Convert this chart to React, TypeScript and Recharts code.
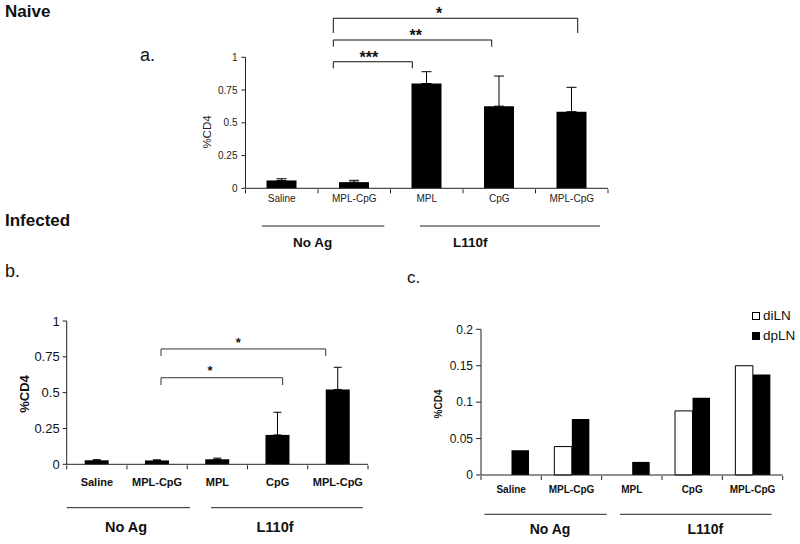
import React from 'react';
import { BarChart, Bar, XAxis, YAxis, ErrorBar, ReferenceLine, ReferenceDot, Legend } from 'recharts';

const FONT = '"Liberation Sans", Arial, Helvetica, sans-serif';

// ---- data ----
const categoryKeys = ['saline', 'noag_mplcpg', 'mpl', 'cpg', 'l110f_mplcpg'];
const categoryLabels = ['Saline', 'MPL-CpG', 'MPL', 'CpG', 'MPL-CpG'];
const categoryPos = [1, 2, 3, 4, 5];
const groupLabels = ['No Ag', 'L110f'];

const naiveMean = [0.06, 0.047, 0.8, 0.627, 0.585];
const naiveErr = [0.013, 0.014, 0.09, 0.23, 0.186];

const infectedMean = [0.028, 0.027, 0.035, 0.205, 0.522];
const infectedErr = [0.004, 0.004, 0.008, 0.158, 0.155];

const diLN = [0, 0.039, 0, 0.088, 0.15];
const dpLN = [0.034, 0.077, 0.018, 0.106, 0.138];

const naiveTicks = [0, 0.25, 0.5, 0.75, 1];
const lnTicks = [0, 0.05, 0.1, 0.15, 0.2];
const boundaryTicks = [0.5, 1.5, 2.5, 3.5, 4.5, 5.5];

// significance brackets (category-position units on x, value units on y)
const naiveSig = [
  { from: 1.711, to: 2.801, y: 0.966, leg: 0.916, mark: '***', markX: 2.203, markY: 1.0 },
  { from: 1.711, to: 3.896, y: 1.132, leg: 1.081, mark: '**', markX: 2.848, markY: 1.168 },
  { from: 1.711, to: 5.082, y: 1.298, leg: 1.186, mark: '*', markX: 3.169, markY: 1.336 },
];
const infectedSig = [
  { from: 2.065, to: 4.084, y: 0.604, leg: 0.553, mark: '*', markX: 2.878, markY: 0.652 },
  { from: 2.065, to: 4.798, y: 0.805, leg: 0.756, mark: '*', markX: 3.348, markY: 0.851 },
];

const labelOf: Record<string, string> = {};
categoryKeys.forEach((k, i) => (labelOf[k] = categoryLabels[i]));

const naiveRows = categoryKeys.map((k, i) => ({ key: k, pos: categoryPos[i], mean: naiveMean[i], err: [0, naiveErr[i]] }));
const infectedRows = categoryKeys.map((k, i) => ({ key: k, pos: categoryPos[i], mean: infectedMean[i], err: [0, infectedErr[i]] }));
const lnRows = categoryKeys.map((k, i) => ({ key: k, pos: categoryPos[i], diLN: diLN[i], dpLN: dpLN[i] }));

type Sig = { from: number; to: number; y: number; leg: number; mark: string; markX: number; markY: number };

function brackets(sigs: Sig[], stroke: string, fontSize: number) {
  const out: React.ReactNode[] = [];
  sigs.forEach((s, i) => {
    out.push(
      <ReferenceLine key={`h${i}`} xAxisId="n" ifOverflow="visible" stroke={stroke} strokeWidth={1}
        segment={[{ x: s.from, y: s.y }, { x: s.to, y: s.y }]} />,
      <ReferenceLine key={`l${i}`} xAxisId="n" ifOverflow="visible" stroke={stroke} strokeWidth={1}
        segment={[{ x: s.from, y: s.y }, { x: s.from, y: s.leg }]} />,
      <ReferenceLine key={`r${i}`} xAxisId="n" ifOverflow="visible" stroke={stroke} strokeWidth={1}
        segment={[{ x: s.to, y: s.y }, { x: s.to, y: s.leg }]} />,
      <ReferenceDot key={`m${i}`} xAxisId="n" ifOverflow="visible" x={s.markX} y={s.markY} r={0}
        shape={(p: any) => (
          <text x={p.cx} y={p.cy} dy="0.35em" textAnchor="middle" fontFamily={FONT}
            fontWeight="bold" fontSize={fontSize} fill="#111">{s.mark}</text>
        )} />
    );
  });
  return out;
}

const boundaryAxis = (
  <XAxis xAxisId="n" dataKey="pos" type="number" domain={[0.5, 5.5]} ticks={boundaryTicks} allowDataOverflow
    tickFormatter={() => ''} axisLine={false} tickLine={{ stroke: '#222' }} tickSize={4} height={1} />
);

function LegendContent(props: any) {
  const payload = props.payload || [];
  return (
    <div style={{ fontFamily: FONT, fontSize: 13.5, color: '#111', lineHeight: '20px' }}>
      {payload.map((e: any) => (
        <div key={e.value} style={{ display: 'flex', alignItems: 'center', whiteSpace: 'nowrap' }}>
          <span style={{ display: 'inline-block', width: 6, height: 6, border: '1px solid #000', background: e.color, marginRight: 3 }} />
          <span>{e.value}</span>
        </div>
      ))}
    </div>
  );
}

export default function App() {
  const abs = (left: number, top: number): React.CSSProperties => ({ position: 'absolute', left, top });
  return (
    <div style={{ position: 'absolute', left: 0, top: 0, width: 800, height: 544, background: '#fff', overflow: 'hidden', fontFamily: FONT }}>
      {/* Panel a */}
      <div style={abs(150, 0)}>
        <BarChart width={470} height={215} data={naiveRows} margin={{ top: 57.3, right: 12, bottom: 24.7, left: 45 }}>
          {boundaryAxis}
          <XAxis dataKey="key" interval={0} height={1} tickLine={false} axisLine={{ stroke: '#222' }}
            tickSize={4} tickMargin={3} tickFormatter={(v: string) => labelOf[v]}
            tick={{ fontSize: 10, fill: '#222', fontFamily: FONT }} />
          <YAxis domain={[0, 1]} ticks={naiveTicks} width={50.5} tickSize={4} tickMargin={4}
            axisLine={{ stroke: '#222' }} tickLine={{ stroke: '#222' }}
            tick={{ fontSize: 10, fill: '#222', fontFamily: FONT }} />
          <Bar dataKey="mean" fill="#000" barSize={30} isAnimationActive={false}>
            <ErrorBar dataKey="err" width={5} strokeWidth={1} stroke="#000" />
          </Bar>
          {brackets(naiveSig, '#111', 16)}
        </BarChart>
      </div>

      {/* Panel b */}
      <div style={abs(0, 300)}>
        <BarChart width={380} height={195} data={infectedRows} margin={{ top: 21, right: 12, bottom: 28.7, left: 20 }}>
          {boundaryAxis}
          <XAxis dataKey="key" interval={0} height={1} tickLine={false} axisLine={{ stroke: '#222' }}
            tickSize={6} tickMargin={8} tickFormatter={(v: string) => labelOf[v]}
            tick={{ fontSize: 11, fill: '#111', fontFamily: FONT, fontWeight: 'bold' }} />
          <YAxis domain={[0, 1]} ticks={naiveTicks} width={46.7} tickSize={4} tickMargin={3}
            axisLine={{ stroke: '#222' }} tickLine={{ stroke: '#222' }}
            tick={{ fontSize: 13, fill: '#111', fontFamily: FONT }} />
          <Bar dataKey="mean" fill="#000" barSize={24} isAnimationActive={false}>
            <ErrorBar dataKey="err" width={4} strokeWidth={1} stroke="#000" />
          </Bar>
          {brackets(infectedSig, '#333', 13)}
        </BarChart>
      </div>

      {/* Panel c */}
      <div style={abs(400, 300)}>
        <BarChart width={395} height={200} data={lnRows} barGap={0} margin={{ top: 29.3, right: 12.3, bottom: 23, left: 20 }}>
          {boundaryAxis}
          <XAxis dataKey="key" interval={0} height={1} tickLine={false} axisLine={{ stroke: '#222' }}
            tickSize={6} tickMargin={5} tickFormatter={(v: string) => labelOf[v]}
            tick={{ fontSize: 10, fill: '#111', fontFamily: FONT, fontWeight: 'bold' }} />
          <YAxis domain={[0, 0.2]} ticks={lnTicks} width={61} tickSize={5} tickMargin={3}
            axisLine={{ stroke: '#222' }} tickLine={{ stroke: '#222' }}
            tick={{ fontSize: 12, fill: '#111', fontFamily: FONT }} />
          <Legend layout="vertical" align="center" verticalAlign="middle" content={<LegendContent />}
            wrapperStyle={{ position: 'absolute', top: 6, left: 352, width: 45 }} />
          <Bar dataKey="diLN" name="diLN" fill="#fff" stroke="#000" strokeWidth={1} barSize={17.5} isAnimationActive={false} />
          <Bar dataKey="dpLN" name="dpLN" fill="#000" barSize={17.5} isAnimationActive={false} />
        </BarChart>
      </div>

      {/* titles, group lines and axis titles */}
      <svg width={800} height={544} style={{ position: 'absolute', left: 0, top: 0, pointerEvents: 'none' }} fontFamily={FONT}>
        <text x={5} y={17.3} fontSize={17} fontWeight="bold" fill="#111">Naive</text>
        <text x={140} y={61} fontSize={18} fill="#111">a.</text>
        <text x={5} y={226} fontSize={17} fontWeight="bold" fill="#111">Infected</text>
        <text x={5} y={276.7} fontSize={18} fill="#111">b.</text>
        <text x={407} y={283.3} fontSize={17} fill="#111">c.</text>

        {/* panel a */}
        <text transform="translate(211,132) rotate(-90)" textAnchor="middle" fontSize={11.5} fill="#222">%CD4</text>
        <line x1={261.7} y1={226} x2={384.3} y2={226} stroke="#222" strokeWidth={1} />
        <line x1={420} y1={226} x2={600} y2={226} stroke="#222" strokeWidth={1} />
        <text x={312.7} y={246.7} textAnchor="middle" fontSize={13.5} fontWeight="bold" fill="#111">{groupLabels[0]}</text>
        <text x={470.3} y={246.7} textAnchor="middle" fontSize={13.5} fontWeight="bold" fill="#111">{groupLabels[1]}</text>

        {/* panel b */}
        <text transform="translate(29,394) rotate(-90)" textAnchor="middle" fontSize={13} fontWeight="bold" fill="#111">%CD4</text>
        <line x1={66.7} y1={507.7} x2={190} y2={507.7} stroke="#222" strokeWidth={1} />
        <line x1={211} y1={507.7} x2={362.7} y2={507.7} stroke="#222" strokeWidth={1} />
        <text x={126} y={532} textAnchor="middle" fontSize={14.5} fontWeight="bold" fill="#111">{groupLabels[0]}</text>
        <text x={275} y={532} textAnchor="middle" fontSize={14.5} fontWeight="bold" fill="#111">{groupLabels[1]}</text>

        {/* panel c */}
        <text transform="translate(442,404) rotate(-90)" textAnchor="middle" fontSize={10} fontWeight="bold" fill="#111">%CD4</text>
        <line x1={484.3} y1={514.3} x2={606.7} y2={514.3} stroke="#222" strokeWidth={1} />
        <line x1={620} y1={514.3} x2={771.7} y2={514.3} stroke="#222" strokeWidth={1} />
        <text x={550} y={534} textAnchor="middle" fontSize={14} fontWeight="bold" fill="#111">{groupLabels[0]}</text>
        <text x={705.3} y={534} textAnchor="middle" fontSize={14} fontWeight="bold" fill="#111">{groupLabels[1]}</text>
      </svg>
    </div>
  );
}
